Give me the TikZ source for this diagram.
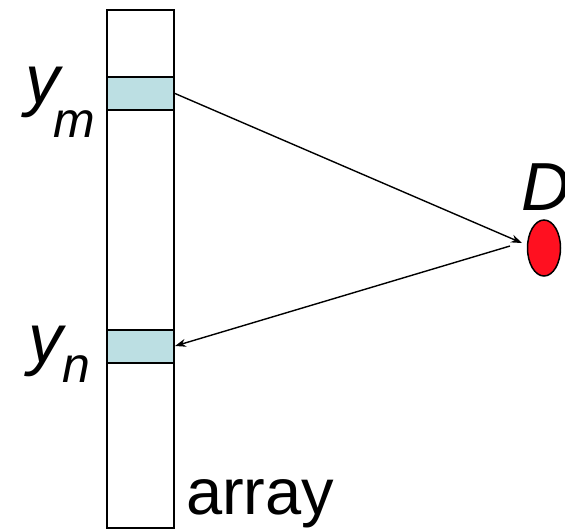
\documentclass[tikz,border=0pt]{standalone}
\usepackage{fontspec}
\setmainfont{Liberation Sans}
\usetikzlibrary{shapes.geometric,arrows.meta}
\definecolor{cellblue}{HTML}{BCDFE3}
\definecolor{dred}{HTML}{FF1020}
\tikzset{
  arraybox/.style={draw, line width=2pt, inner sep=0pt},
  cellbox/.style={draw, line width=2pt, fill=cellblue, inner sep=0pt},
  conn/.style={line width=1.4pt, -{Stealth[length=11pt,width=8pt]}},
  lbl/.style={inner sep=0pt, anchor=base west},
}
\begin{document}
\begin{tikzpicture}[x=1pt,y=-1pt]
\useasboundingbox (0,0) rectangle (565,531);
% array
\node[arraybox, minimum width=67pt, minimum height=518pt] (arr) at (140.5,269) {};
\node[cellbox, minimum width=67pt, minimum height=33pt] (cm) at (140.5,93.5) {};
\node[cellbox, minimum width=67pt, minimum height=33pt] (cn) at (140.5,346) {};
% D point
\node[draw, line width=1.5pt, fill=dred, ellipse, minimum width=33pt, minimum height=56pt, inner sep=0pt] (D) at (544,248) {};
\coordinate (d1) at (522,243);
\coordinate (d2) at (510,246);
\draw[conn] (cm.east) -- (d1);
\draw[conn] (d2) -- (cn.east);
% labels
\node[lbl] (ym) at (25,103) {\fontsize{69}{72}\selectfont\itshape y};
\node[lbl] (msub) at (53,137) {\fontsize{50}{54}\selectfont\itshape m};
\node[lbl] (yn) at (28,362) {\fontsize{69}{72}\selectfont\itshape y};
\node[lbl] (nsub) at (62,382) {\fontsize{50}{54}\selectfont\itshape n};
\node[lbl] (Dl) at (521,210) {\fontsize{68}{72}\selectfont\itshape D};
\node[lbl] (arrl) at (186,514) {\fontsize{65}{68}\selectfont array};
\end{tikzpicture}
\end{document}
